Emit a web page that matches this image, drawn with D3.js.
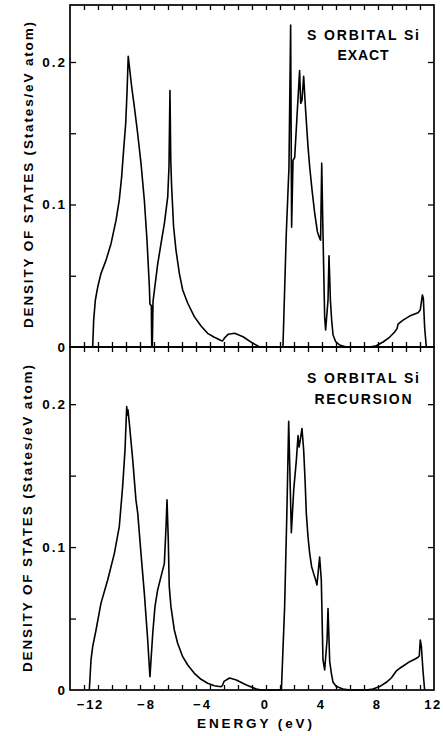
<!DOCTYPE html>
<html><head><meta charset="utf-8">
<script src="https://cdn.jsdelivr.net/npm/d3@7"></script>
<style>body{margin:0;background:#fff}text{font-family:"Liberation Sans",Arial,Helvetica,sans-serif;font-weight:bold;fill:#000}</style>
</head><body><svg id="c" width="443" height="736"></svg>
<script>
// ---- data ----
const exactE = [-12.38,-12.31,-12.19,-12.02,-11.79,-11.43,-11.07,-10.71,-10.48,-10.31,-10.17,-10.02,-9.93,-9.84,
  -9.6,-9.41,-9.17,-8.93,-8.69,-8.5,-8.33,-8.29,-8.19,-8.16,-8.12,-8.07,-7.98,-7.74,-7.5,-7.26,-7.02,-6.93,-6.86,
  -6.8,-6.74,-6.6,-6.43,-6.19,-5.95,-5.59,-5.12,-4.64,-4.17,-3.69,-3.21,-3.1,-2.95,-2.71,-2.24,-1.64,-0.93,-0.45,
  1.21,1.45,1.64,1.76,1.83,1.93,2.05,2.21,2.4,2.48,2.57,2.69,2.83,3.0,3.12,3.29,3.48,3.67,3.83,3.9,3.98,4.07,4.19,4.26,4.43,4.5,
  4.6,4.69,4.79,4.98,5.26,5.74,7.4,7.88,8.36,8.84,9.19,9.36,9.43,9.79,10.26,10.62,10.86,11.02,11.17,11.24,11.33,11.45];
const exactDos = [0,0.0187,0.0328,0.0421,0.0515,0.0608,0.0725,0.089,0.1032,0.1196,0.1383,0.157,0.178,0.204,
  0.183,0.169,0.150,0.129,0.103,0.0749,0.0421,0.030,0.029,0,0,0.032,0.039,0.058,0.0725,0.0866,0.1053,0.1265,0.180,
  0.13,0.1125,0.0844,0.068,0.0517,0.040,0.0307,0.0213,0.0147,0.0096,0.0068,0.0046,0.0043,0.0065,0.0089,0.0096,0.0072,0.0026,0,
  0,0.0798,0.126,0.226,0.084,0.131,0.133,0.161,0.194,0.171,0.173,0.19,0.166,0.1406,0.1265,0.110,0.0938,0.0809,0.0763,0.075,0.129,0.08,0.021,0.012,0.033,0.064,
  0.0328,0.0189,0.0084,0.0037,0.0014,0,0,0.0009,0.0035,0.007,0.0105,0.0129,0.016,0.0189,0.0217,0.0231,0.024,0.026,0.0365,0.034,0.014,0];
const recE = [-12.62,-12.5,-12.38,-12.14,-11.79,-11.31,-10.83,-10.48,-10.24,-10.07,-9.95,-9.91,-9.86,-9.76,-9.52,-9.29,-9.16,
  -8.93,-8.69,-8.45,-8.29,-8.09,-7.93,-7.74,-7.5,-7.26,-7.14,-7.07,-6.98,-6.91,-6.79,-6.55,-6.31,-5.95,-5.59,-5.12,-4.64,-4.17,
  -3.69,-3.21,-3.12,-3.0,-2.6,-2.12,-1.4,-0.69,-0.3,
  1.1,1.33,1.5,1.62,1.81,1.98,2.17,2.29,2.36,2.45,2.57,2.69,2.79,2.88,3.0,3.12,3.26,3.4,3.55,3.64,3.83,3.95,4.07,4.19,4.36,4.43,
  4.55,4.67,4.79,5.02,5.5,5.98,7.17,7.64,8.12,8.59,8.95,9.19,9.31,9.55,9.91,10.26,10.62,10.86,10.95,11.02,11.1,11.21,11.33];
const recDos = [0,0.021,0.0303,0.042,0.0606,0.077,0.0956,0.1143,0.1423,0.168,0.1983,0.1925,0.196,0.1866,0.161,0.133,0.1236,
  0.0956,0.0676,0.035,0.0093,0.0396,0.0583,0.070,0.0793,0.0886,0.1143,0.133,0.105,0.0723,0.0583,0.042,0.0327,0.0233,0.0175,0.0117,0.0075,0.0047,
  0.003,0.0023,0.003,0.006,0.0084,0.007,0.0035,0.0007,0,
  0,0.058,0.128,0.188,0.110,0.14,0.161,0.178,0.17,0.175,0.183,0.168,0.147,0.1236,0.1073,0.0956,0.0863,0.0816,0.077,0.0735,0.093,0.077,0.021,0.014,0.035,0.057,
  0.0201,0.0117,0.0054,0.0024,0.0007,0,0,0.0007,0.0024,0.0054,0.0084,0.0117,0.0133,0.0152,0.0175,0.0198,0.0215,0.0229,0.0238,0.035,0.0303,0.014,0];
const xTickValues = [-12,-8,-4,0,4,8,12];
const xMinorTicks = [-13,-12,-11,-10,-9,-8,-7,-6,-5,-4,-3,-2,-1,0,1,2,3,4,5,6,7,8,9,10,11];
const yTickValues = [0,0.1,0.2];
const yTickLabels = ["0","0.1","0.2"];
const yMinorTicks = [0.05,0.1,0.15,0.2];
const panelTitles = [["S ORBITAL Si","EXACT"],["S ORBITAL Si","RECURSION"]];
const yTitle = "DENSITY OF STATES (States/eV  atom)";
const xTitle = "ENERGY (eV)";

// ---- drawing ----
const svg = d3.select("#c");
const L = 70, R = 434;
const x = d3.scaleLinear().domain([-14, 12]).range([L, R]);

const panels = [
  {top: 5, bottom: 347, E: exactE, D: exactDos, titles: panelTitles[0], tl: [112, 51], tb: [39.5, 60], yt: {x: 33, y: 175, len: 306}},
  {top: 347, bottom: 690, E: recE, D: recDos, titles: panelTitles[1], tl: [112, 97], tb: [382.5, 403.5], yt: {x: 32, y: 518.5, len: 307}}
];

panels.forEach((p, i) => {
  const y = d3.scaleLinear().domain([0, 0.24]).range([p.bottom, p.top]);
  const g = svg.append("g");
  const noDomain = s => s.select(".domain").remove();
  const tickStyle = s => s.selectAll("line").attr("stroke", "#000").attr("stroke-width", 1.3);

  g.append("g").attr("transform", `translate(0,${p.bottom})`)
    .call(d3.axisBottom(x).tickValues(xMinorTicks).tickSize(-5).tickFormat(""))
    .call(noDomain).call(tickStyle);
  g.append("g").attr("transform", `translate(0,${p.top})`)
    .call(d3.axisTop(x).tickValues(xMinorTicks).tickSize(-5).tickFormat(""))
    .call(noDomain).call(tickStyle);
  g.append("g").attr("transform", `translate(${L},0)`)
    .call(d3.axisLeft(y).tickValues(yMinorTicks).tickSize(-6).tickFormat(""))
    .call(noDomain).call(tickStyle);
  g.append("g").attr("transform", `translate(${R},0)`)
    .call(d3.axisRight(y).tickValues(yMinorTicks).tickSize(-6).tickFormat(""))
    .call(noDomain).call(tickStyle);

  g.append("rect").attr("x", L).attr("y", p.top).attr("width", R - L).attr("height", p.bottom - p.top)
    .attr("fill", "none").attr("stroke", "#000").attr("stroke-width", 1.7);

  yTickValues.forEach((v, k) => {
    g.append("text").attr("x", 67).attr("y", y(v) + 4.8)
      .attr("text-anchor", "end").attr("font-size", 13.5).attr("letter-spacing", 2)
      .text(yTickLabels[k]);
  });

  const pts = p.E.map((e, k) => [e, p.D[k]]);
  g.append("path").datum(pts)
    .attr("d", d3.line().x(d => x(d[0])).y(d => y(d[1])))
    .attr("fill", "none").attr("stroke", "#000").attr("stroke-width", 1.6)
    .attr("stroke-linejoin", "round");

  p.titles.forEach((t, k) => {
    g.append("text").attr("x", 363).attr("y", p.tb[k]).attr("text-anchor", "middle")
      .attr("font-size", 14).attr("textLength", p.tl[k]).attr("lengthAdjust", "spacing").text(t);
  });

  g.append("text").attr("transform", `translate(${p.yt.x},${p.yt.y}) rotate(-90)`)
    .attr("text-anchor", "middle").attr("font-size", 13.5)
    .attr("textLength", p.yt.len).attr("lengthAdjust", "spacing").text(yTitle);
});

xTickValues.forEach(v => {
  const cx = x(v) + (v < 0 ? -3 : -1);
  const t = svg.append("text").attr("x", cx).attr("y", 708.5).attr("text-anchor", "middle")
    .attr("font-size", 13).attr("letter-spacing", 1.5).text(String(Math.abs(v)));
  if (v < 0) {
    const w = t.node().getComputedTextLength();
    svg.append("text").attr("x", cx - w / 2 - 2).attr("y", 708.5).attr("text-anchor", "end")
      .attr("font-size", 13).text("\u2212");
  }
});

svg.append("text").attr("x", 254.5).attr("y", 728).attr("text-anchor", "middle")
  .attr("font-size", 13.5).attr("textLength", 115).attr("lengthAdjust", "spacing").text(xTitle);
</script></body></html>
